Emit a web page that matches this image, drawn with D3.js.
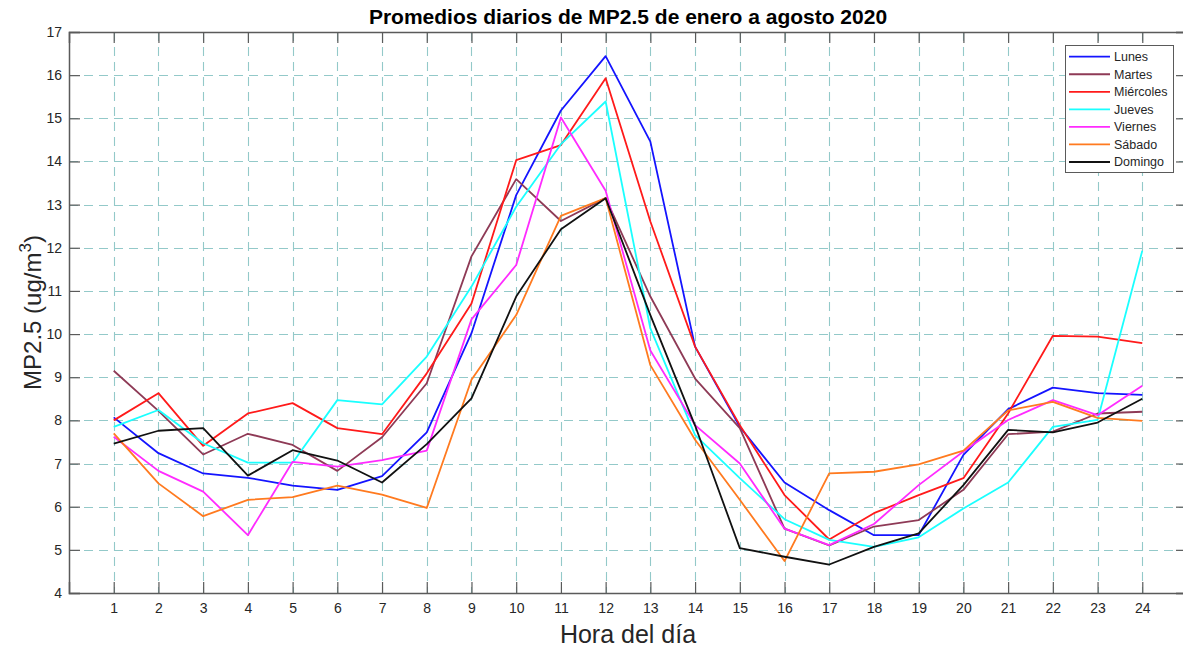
<!DOCTYPE html>
<html>
<head>
<meta charset="utf-8">
<script src="https://cdn.jsdelivr.net/npm/d3@7"></script>
<style>
  html, body { margin: 0; padding: 0; background: #fff; }
  svg { display: block; font-family: "Liberation Sans", Arial, Helvetica, sans-serif; }
</style>
</head>
<body>
<svg id="chart" width="1183" height="649"></svg>
<script>
const hours = [1,2,3,4,5,6,7,8,9,10,11,12,13,14,15,16,17,18,19,20,21,22,23,24];
const xTicks = hours;
const yTicks = [4,5,6,7,8,9,10,11,12,13,14,15,16,17];
const seriesNames = ["Lunes","Martes","Miércoles","Jueves","Viernes","Sábado","Domingo"];
const seriesColors = ["#1414ff","#8e3a56","#ff1a1a","#1affff","#ff2bff","#ff7a1f","#111111"];

const lunes     = [8.07,7.24,6.77,6.67,6.49,6.39,6.71,7.72,10.02,13.22,15.18,16.44,14.46,9.71,7.85,6.56,5.92,5.34,5.34,7.20,8.26,8.76,8.63,8.59];
const martes    = [9.15,8.22,7.21,7.69,7.43,6.83,7.61,8.86,11.80,13.59,12.62,13.15,10.87,8.97,7.82,5.49,5.10,5.54,5.69,6.39,7.68,7.74,8.16,8.20];
const miercoles = [8.00,8.63,7.41,8.16,8.40,7.82,7.68,9.09,10.71,14.03,14.38,15.93,12.61,9.71,7.89,6.27,5.24,5.85,6.27,6.66,8.16,9.96,9.94,9.79];
const jueves    = [7.85,8.24,7.47,7.02,7.02,8.47,8.37,9.48,11.10,12.95,14.40,15.39,10.13,7.66,6.66,5.71,5.23,5.07,5.29,5.96,6.56,7.85,8.01,11.93];
const viernes   = [7.62,6.83,6.35,5.34,7.04,6.93,7.08,7.30,10.34,11.60,15.02,13.32,9.62,7.89,7.00,5.49,5.11,5.60,6.50,7.28,8.01,8.47,8.12,8.80];
const sabado    = [7.70,6.54,5.78,6.16,6.22,6.49,6.28,5.97,8.94,10.44,12.74,13.15,9.28,7.55,6.16,4.74,6.77,6.81,6.98,7.30,8.23,8.43,8.06,7.99];
const domingo   = [7.46,7.76,7.82,6.72,7.31,7.07,6.56,7.45,8.51,10.87,12.43,13.15,10.44,7.88,5.04,4.84,4.66,5.07,5.38,6.50,7.78,7.72,7.95,8.50];

const seriesValues = [lunes, martes, miercoles, jueves, viernes, sabado, domingo];

const svg = d3.select("#chart");
const L = 69, R = 1187, T = 32, B = 593;
const x = d3.scaleLinear().domain([0,25]).range([L,R]);
const y = d3.scaleLinear().domain([4,17]).range([B,T]);

svg.append("rect").attr("width",1183).attr("height",649).attr("fill","#fff");

// grid
const grid = svg.append("g").attr("stroke","#93c9c9").attr("stroke-width",1.1).attr("stroke-dasharray","9,6");
grid.selectAll("line.v").data(xTicks).join("line")
  .attr("x1",d=>Math.round(x(d))+0.5).attr("x2",d=>Math.round(x(d))+0.5)
  .attr("y1",T).attr("y2",B);
grid.selectAll("line.h").data(yTicks.slice(1,-1)).join("line")
  .attr("y1",d=>Math.round(y(d))+0.5).attr("y2",d=>Math.round(y(d))+0.5)
  .attr("x1",L).attr("x2",R);

// axes with inward ticks
const axisColor = "#5a5a5a";
const tl = 11;
const xb = svg.append("g").attr("transform",`translate(0,${B})`)
  .call(d3.axisBottom(x).tickValues(xTicks).tickSize(-tl).tickPadding(10));
const xt = svg.append("g").attr("transform",`translate(0,${T})`)
  .call(d3.axisTop(x).tickValues(xTicks).tickSize(-tl).tickFormat(""));
const yl = svg.append("g").attr("transform",`translate(${L},0)`)
  .call(d3.axisLeft(y).tickValues(yTicks).tickSize(-tl).tickPadding(7));
const yr = svg.append("g").attr("transform",`translate(${R},0)`)
  .call(d3.axisRight(y).tickValues(yTicks).tickSize(-tl).tickFormat(""));
[xb,xt,yl,yr].forEach(g=>{
  g.select(".domain").attr("stroke",axisColor).attr("stroke-width",1.5);
  g.selectAll(".tick line").attr("stroke",axisColor).attr("stroke-width",1.2);
  g.selectAll(".tick text").attr("fill","#262626").attr("font-size",14)
    .attr("font-family","Liberation Sans, Arial, sans-serif");
});

// lines
const line = d3.line().x((d,i)=>x(hours[i])).y(d=>y(d));
svg.append("g").selectAll("path").data(seriesValues).join("path")
  .attr("d",d=>line(d)).attr("fill","none")
  .attr("stroke",(d,i)=>seriesColors[i]).attr("stroke-width",1.8)
  .attr("stroke-linejoin","round");

// title
svg.append("text").attr("x",(L+R)/2).attr("y",24).attr("text-anchor","middle")
  .attr("font-size",21).attr("font-weight","bold").attr("fill","#000")
  .text("Promedios diarios de MP2.5 de enero a agosto 2020");

// x label
svg.append("text").attr("x",(L+R)/2).attr("y",643).attr("text-anchor","middle")
  .attr("font-size",25).attr("fill","#262626").text("Hora del día");

// y label
const ylab = svg.append("text").attr("transform",`translate(41,${(T+B)/2}) rotate(-90)`)
  .attr("text-anchor","middle").attr("font-size",24).attr("fill","#262626");
ylab.append("tspan").text("MP2.5 (ug/m");
ylab.append("tspan").attr("dy",-10).attr("font-size",17).text("3");
ylab.append("tspan").attr("dy",10).text(")");

// legend
const lg = svg.append("g");
lg.append("rect").attr("x",1065.5).attr("y",45.5).attr("width",108).attr("height",127)
  .attr("fill","#fff").attr("stroke","#5a5a5a").attr("stroke-width",1);
const rows = lg.selectAll("g.row").data(seriesNames).join("g")
  .attr("transform",(d,i)=>`translate(0,${56.7 + i*17.55})`);
rows.append("line").attr("x1",1069).attr("x2",1110).attr("y1",0).attr("y2",0)
  .attr("stroke",(d,i)=>seriesColors[i]).attr("stroke-width",1.8);
rows.append("text").attr("x",1114).attr("y",0).attr("dy","0.35em")
  .attr("font-size",12.5).attr("fill","#262626").text(d=>d);
</script>
</body>
</html>
